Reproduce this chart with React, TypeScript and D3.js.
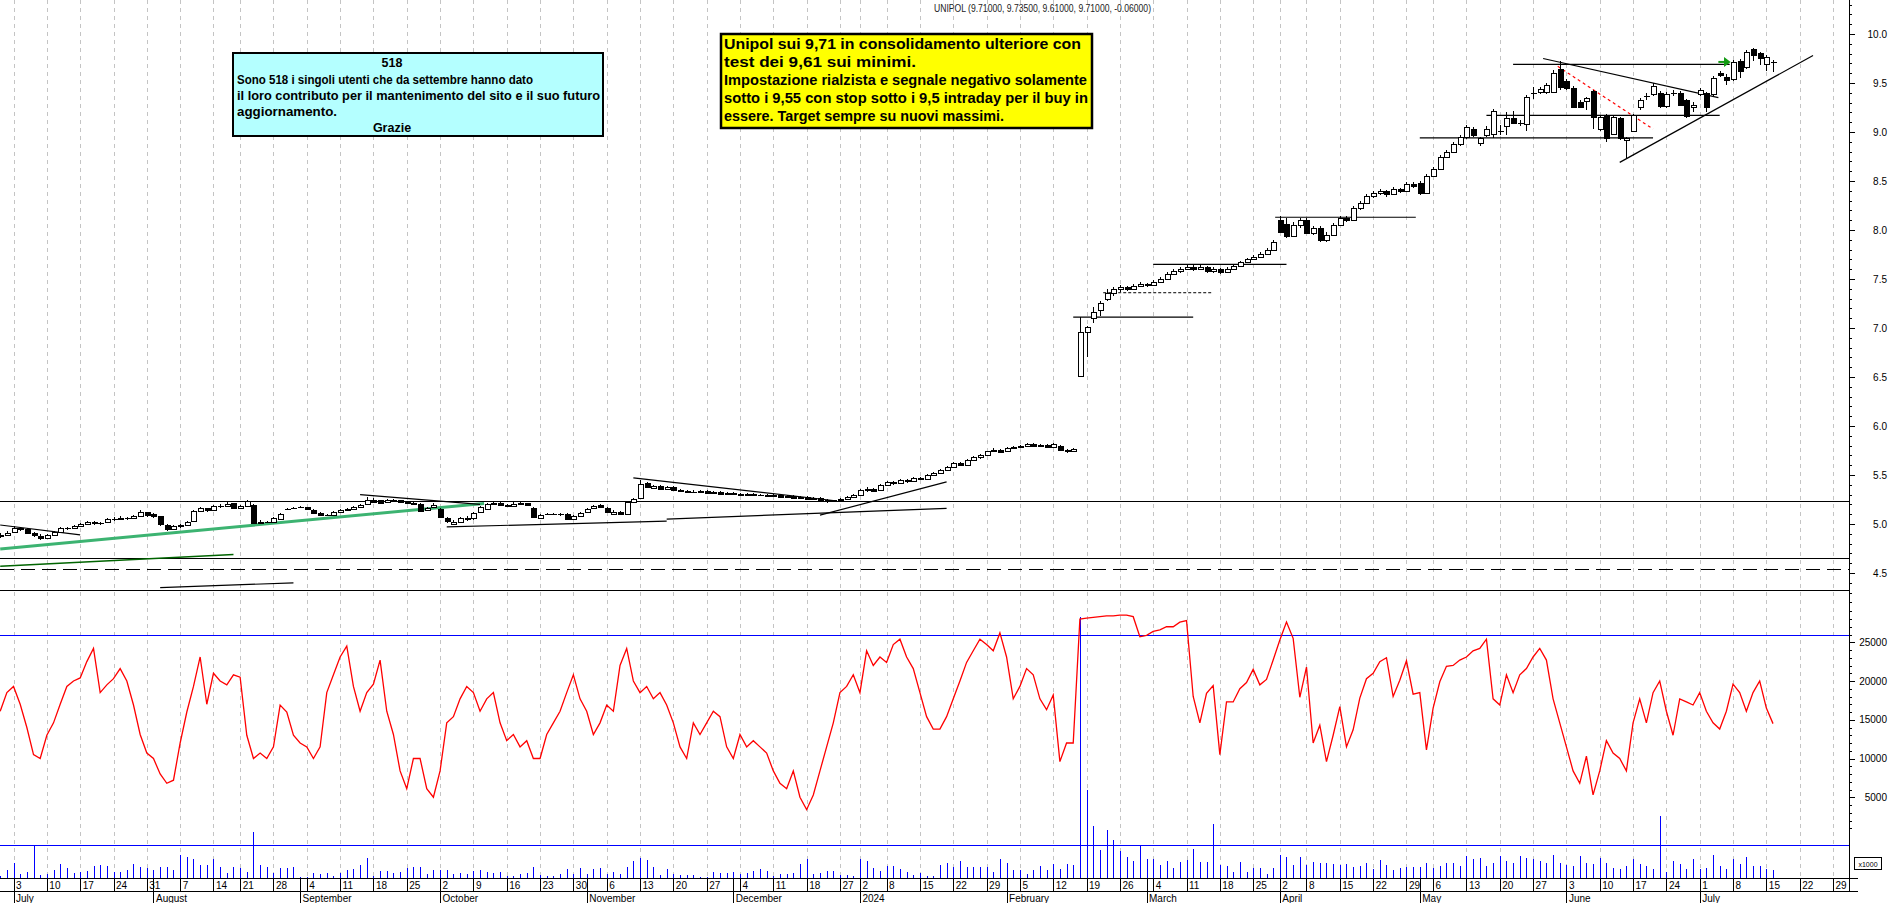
import * as d3 from "d3";

// ---- calendar -------------------------------------------------------------
const FIRST_DAY = new Date(2023, 5, 29);
const LAST_AXIS_DAY = new Date(2024, 6, 31);
const HOLIDAYS = ["2023-08-15", "2023-12-25", "2023-12-26", "2024-01-01", "2024-03-29", "2024-04-01", "2024-05-01"];
const MONTH_LABELS = ["July", "August", "September", "October", "November", "December", "2024", "February", "March", "April", "May", "June", "July"];
const FIRST_INDEX = -2; // index of FIRST_DAY relative to Jul 3 2023

// ---- price candles [open, high, low, close], one per trading day from 29 Jun 2023 ----
const CANDLES: number[][] = [
  [4.88, 4.91, 4.86, 4.89], [4.89, 4.93, 4.88, 4.91],
  // July
  [4.92, 4.98, 4.91, 4.96], [4.96, 4.97, 4.93, 4.95], [4.95, 4.96, 4.9, 4.91], [4.91, 4.92, 4.87, 4.89], [4.88, 4.9, 4.84, 4.86],
  [4.86, 4.9, 4.85, 4.89], [4.89, 4.93, 4.88, 4.92], [4.92, 4.97, 4.91, 4.96], [4.96, 4.97, 4.94, 4.96], [4.96, 4.99, 4.95, 4.98],
  [4.98, 5.01, 4.97, 5.0], [5.0, 5.03, 4.99, 5.02], [5.02, 5.03, 4.99, 5.01], [5.01, 5.02, 4.99, 5.01], [5.02, 5.06, 5.01, 5.05],
  [5.05, 5.07, 5.03, 5.05], [5.05, 5.08, 5.04, 5.06], [5.06, 5.07, 5.04, 5.06], [5.06, 5.09, 5.05, 5.08], [5.08, 5.14, 5.08, 5.12],
  [5.12, 5.12, 5.07, 5.09],
  // August
  [5.1, 5.11, 5.06, 5.08], [5.08, 5.08, 4.98, 5.0], [4.99, 5.0, 4.93, 4.95], [4.95, 4.99, 4.94, 4.98], [4.98, 5.0, 4.96, 4.99],
  [4.99, 5.03, 4.98, 5.02], [5.03, 5.14, 5.02, 5.13], [5.13, 5.17, 5.12, 5.16], [5.16, 5.16, 5.12, 5.14], [5.14, 5.19, 5.13, 5.18],
  [5.18, 5.2, 5.16, 5.18], [5.18, 5.22, 5.17, 5.2], [5.21, 5.21, 5.15, 5.16], [5.16, 5.19, 5.15, 5.18], [5.18, 5.25, 5.17, 5.23],
  [5.19, 5.2, 5.0, 5.01], [5.01, 5.04, 5.0, 5.02], [5.02, 5.03, 5.01, 5.02], [5.02, 5.07, 5.01, 5.06], [5.05, 5.11, 5.04, 5.1],
  [5.15, 5.16, 5.14, 5.15], [5.16, 5.17, 5.15, 5.16],
  // September
  [5.17, 5.18, 5.16, 5.17], [5.17, 5.17, 5.14, 5.15], [5.14, 5.15, 5.1, 5.11], [5.11, 5.12, 5.08, 5.09], [5.09, 5.1, 5.08, 5.09],
  [5.09, 5.13, 5.08, 5.12], [5.12, 5.15, 5.11, 5.14], [5.14, 5.16, 5.13, 5.15], [5.15, 5.18, 5.14, 5.17], [5.17, 5.2, 5.16, 5.19],
  [5.2, 5.28, 5.19, 5.25], [5.25, 5.27, 5.21, 5.22], [5.24, 5.25, 5.2, 5.21], [5.22, 5.26, 5.21, 5.25], [5.25, 5.26, 5.23, 5.24],
  [5.24, 5.25, 5.21, 5.22], [5.22, 5.23, 5.2, 5.21], [5.21, 5.22, 5.19, 5.2], [5.2, 5.21, 5.12, 5.13], [5.14, 5.17, 5.13, 5.16],
  [5.17, 5.21, 5.16, 5.19],
  // October
  [5.15, 5.16, 5.06, 5.07], [5.06, 5.07, 5.01, 5.03], [5.0, 5.04, 4.99, 5.02], [5.02, 5.07, 5.01, 5.06], [5.05, 5.08, 5.03, 5.06],
  [5.06, 5.12, 5.04, 5.11], [5.12, 5.18, 5.11, 5.17], [5.15, 5.21, 5.14, 5.2], [5.2, 5.23, 5.19, 5.21], [5.21, 5.22, 5.18, 5.19],
  [5.19, 5.2, 5.17, 5.18], [5.18, 5.22, 5.17, 5.2], [5.2, 5.22, 5.19, 5.21], [5.21, 5.21, 5.18, 5.19], [5.16, 5.17, 5.06, 5.07],
  [5.06, 5.1, 5.05, 5.09], [5.1, 5.11, 5.09, 5.1], [5.1, 5.11, 5.09, 5.1], [5.1, 5.11, 5.08, 5.1], [5.1, 5.11, 5.04, 5.05],
  [5.05, 5.09, 5.04, 5.08], [5.08, 5.12, 5.07, 5.11],
  // November
  [5.12, 5.16, 5.11, 5.15], [5.16, 5.19, 5.15, 5.18], [5.19, 5.2, 5.16, 5.17], [5.16, 5.17, 5.11, 5.12], [5.1, 5.14, 5.09, 5.12],
  [5.12, 5.13, 5.09, 5.1], [5.1, 5.23, 5.09, 5.22], [5.22, 5.27, 5.21, 5.26], [5.27, 5.45, 5.26, 5.41], [5.42, 5.43, 5.37, 5.38],
  [5.37, 5.4, 5.36, 5.39], [5.39, 5.4, 5.35, 5.36], [5.36, 5.39, 5.35, 5.38], [5.38, 5.39, 5.34, 5.35], [5.35, 5.36, 5.33, 5.34],
  [5.34, 5.35, 5.32, 5.33], [5.33, 5.35, 5.32, 5.33], [5.33, 5.35, 5.32, 5.34], [5.34, 5.35, 5.31, 5.32], [5.32, 5.34, 5.31, 5.33],
  [5.33, 5.34, 5.3, 5.31], [5.31, 5.33, 5.3, 5.32],
  // December
  [5.32, 5.33, 5.3, 5.31], [5.31, 5.32, 5.29, 5.3], [5.3, 5.32, 5.29, 5.31], [5.31, 5.32, 5.29, 5.3], [5.3, 5.31, 5.29, 5.3],
  [5.3, 5.31, 5.28, 5.29], [5.29, 5.31, 5.28, 5.3], [5.3, 5.31, 5.27, 5.28], [5.28, 5.3, 5.27, 5.29], [5.29, 5.3, 5.26, 5.27],
  [5.27, 5.29, 5.26, 5.28], [5.28, 5.29, 5.25, 5.26], [5.26, 5.28, 5.25, 5.27], [5.27, 5.28, 5.24, 5.25], [5.25, 5.26, 5.21, 5.23],
  [5.23, 5.25, 5.22, 5.24], [5.24, 5.27, 5.23, 5.26], [5.26, 5.29, 5.25, 5.28], [5.28, 5.31, 5.27, 5.3],
  // January
  [5.3, 5.36, 5.29, 5.35], [5.35, 5.38, 5.33, 5.36], [5.36, 5.37, 5.33, 5.34], [5.35, 5.41, 5.34, 5.4], [5.4, 5.44, 5.39, 5.43],
  [5.43, 5.44, 5.4, 5.42], [5.42, 5.46, 5.41, 5.45], [5.45, 5.46, 5.42, 5.44], [5.44, 5.48, 5.43, 5.47], [5.47, 5.48, 5.45, 5.46],
  [5.46, 5.51, 5.45, 5.5], [5.5, 5.53, 5.49, 5.52], [5.52, 5.56, 5.51, 5.55], [5.55, 5.59, 5.54, 5.58], [5.58, 5.63, 5.57, 5.62],
  [5.62, 5.63, 5.59, 5.6], [5.6, 5.66, 5.59, 5.65], [5.65, 5.69, 5.64, 5.68], [5.68, 5.71, 5.66, 5.7], [5.7, 5.75, 5.69, 5.74],
  [5.74, 5.78, 5.73, 5.76], [5.76, 5.77, 5.72, 5.73],
  // February
  [5.74, 5.79, 5.73, 5.78], [5.78, 5.8, 5.77, 5.79], [5.79, 5.81, 5.78, 5.8], [5.8, 5.83, 5.79, 5.82], [5.82, 5.83, 5.79, 5.8],
  [5.8, 5.82, 5.79, 5.81], [5.81, 5.82, 5.78, 5.79], [5.79, 5.83, 5.78, 5.82], [5.8, 5.81, 5.75, 5.76], [5.76, 5.77, 5.72, 5.74],
  [5.75, 5.78, 5.73, 5.77], [6.51, 7.11, 6.5, 6.96], [6.96, 7.02, 6.7, 7.01], [7.1, 7.21, 7.05, 7.16], [7.18, 7.28, 7.12, 7.26],
  [7.3, 7.4, 7.28, 7.36], [7.36, 7.42, 7.33, 7.4], [7.4, 7.44, 7.37, 7.42], [7.42, 7.43, 7.38, 7.4], [7.4, 7.45, 7.39, 7.43],
  [7.43, 7.47, 7.42, 7.45],
  // March
  [7.45, 7.46, 7.42, 7.44], [7.44, 7.49, 7.43, 7.47], [7.47, 7.52, 7.46, 7.5], [7.5, 7.57, 7.49, 7.55], [7.55, 7.6, 7.54, 7.58],
  [7.58, 7.62, 7.56, 7.6], [7.6, 7.65, 7.59, 7.62], [7.62, 7.64, 7.58, 7.6], [7.6, 7.64, 7.59, 7.62], [7.62, 7.63, 7.56, 7.58],
  [7.58, 7.62, 7.56, 7.6], [7.6, 7.61, 7.55, 7.57], [7.57, 7.62, 7.56, 7.6], [7.6, 7.65, 7.59, 7.63], [7.63, 7.68, 7.62, 7.67],
  [7.67, 7.71, 7.66, 7.7], [7.7, 7.74, 7.69, 7.72], [7.72, 7.78, 7.71, 7.76], [7.76, 7.82, 7.75, 7.8], [7.8, 7.9, 7.79, 7.88],
  // April
  [8.1, 8.14, 7.97, 7.98], [8.06, 8.12, 7.92, 7.94], [7.94, 8.08, 7.93, 8.05], [8.05, 8.12, 8.02, 8.1], [8.1, 8.12, 7.96, 7.97],
  [7.97, 8.04, 7.95, 8.02], [8.02, 8.04, 7.88, 7.9], [7.9, 7.98, 7.88, 7.95], [7.95, 8.07, 7.94, 8.05], [8.05, 8.14, 8.04, 8.12],
  [8.12, 8.14, 8.08, 8.1], [8.1, 8.24, 8.09, 8.22], [8.22, 8.3, 8.2, 8.28], [8.28, 8.37, 8.27, 8.35], [8.35, 8.4, 8.33, 8.38],
  [8.38, 8.42, 8.36, 8.4], [8.4, 8.41, 8.34, 8.37], [8.37, 8.44, 8.36, 8.42], [8.42, 8.43, 8.38, 8.4], [8.4, 8.49, 8.39, 8.47],
  [8.47, 8.49, 8.43, 8.45],
  // May
  [8.48, 8.5, 8.36, 8.38], [8.38, 8.57, 8.37, 8.55], [8.55, 8.64, 8.54, 8.62], [8.62, 8.77, 8.61, 8.75], [8.75, 8.82, 8.73, 8.8],
  [8.8, 8.9, 8.79, 8.88], [8.88, 8.97, 8.86, 8.95], [8.95, 9.07, 8.93, 9.05], [9.03, 9.05, 8.95, 8.97], [8.89, 8.95, 8.86, 8.94],
  [8.97, 9.06, 8.95, 9.03], [8.98, 9.23, 8.94, 9.21], [9.01, 9.07, 8.97, 9.01], [9.06, 9.2, 8.97, 9.14], [9.14, 9.21, 9.08, 9.09],
  [9.09, 9.12, 9.06, 9.09], [9.08, 9.38, 9.01, 9.36], [9.4, 9.46, 9.34, 9.4], [9.41, 9.46, 9.39, 9.44], [9.41, 9.5, 9.39, 9.48],
  [9.41, 9.63, 9.4, 9.6], [9.64, 9.72, 9.43, 9.46],
  // June
  [9.52, 9.54, 9.43, 9.45], [9.45, 9.47, 9.24, 9.26], [9.31, 9.33, 9.25, 9.26], [9.32, 9.36, 9.22, 9.35], [9.42, 9.43, 9.03, 9.15],
  [9.03, 9.16, 9.01, 9.15], [9.17, 9.18, 8.9, 8.94], [8.98, 9.17, 8.97, 9.15], [9.14, 9.15, 8.92, 8.94], [8.92, 8.95, 8.73, 8.94],
  [9.01, 9.18, 9.0, 9.17], [9.25, 9.35, 9.22, 9.33], [9.37, 9.4, 9.33, 9.37], [9.39, 9.5, 9.37, 9.47], [9.4, 9.42, 9.24, 9.27],
  [9.27, 9.41, 9.25, 9.39], [9.4, 9.43, 9.37, 9.4], [9.4, 9.42, 9.27, 9.28], [9.33, 9.34, 9.14, 9.16], [9.25, 9.31, 9.2, 9.28],
  // July
  [9.39, 9.45, 9.37, 9.43], [9.4, 9.41, 9.2, 9.26], [9.39, 9.57, 9.37, 9.55], [9.6, 9.62, 9.56, 9.58], [9.56, 9.59, 9.48, 9.53],
  [9.54, 9.73, 9.52, 9.71], [9.72, 9.75, 9.55, 9.62], [9.66, 9.84, 9.64, 9.82], [9.85, 9.86, 9.72, 9.79], [9.81, 9.82, 9.68, 9.75],
  [9.69, 9.79, 9.62, 9.77], [9.71, 9.735, 9.61, 9.71],
];

// ---- lower panel: red oscillator line (thousands) and blue volume bars ----
const OSCILLATOR = [
  16.1, 18.5,
  19.3, 17, 14, 10.5, 10.0, 13, 14.6, 17, 19.3, 20,
  20.4, 22.5, 24.2, 18.5, 19.5, 20.3, 21.6, 20, 16.9, 13.1,
  10.7, 10, 8, 6.8, 7.2, 12, 16, 19.3, 23.1, 17,
  21, 20, 19.5, 20.8, 20.5, 13, 10, 10.7, 10, 11.5,
  16.9, 16, 13, 12, 11.5, 10, 11.5, 18.5, 20.8, 23.1,
  24.5, 19.3, 16.1, 18.5, 19.6, 22.7, 16.1, 13.1, 8.4, 6.1,
  10, 10, 6.1, 5.0, 8.4, 14.6, 15.4, 17.7, 19.3, 18.5,
  16.1, 17.7, 18.5, 14.6, 12.3, 13.1, 11.5, 12.3, 10.0, 10,
  13.1, 14.6, 16.1, 18.5, 20.8, 17.7, 16.1, 13.1, 14.6, 16.9,
  16.1, 22.0, 24.2, 20, 18.5, 19.3, 17.7, 18.5, 16.9, 14.6,
  11.5, 10, 14.6, 13.1, 14.6, 16.1, 15.4, 11.5, 10, 13.1,
  11.5, 12.3, 11.5, 10.7, 8.4, 6.8, 6.1, 8.4, 5.0, 3.4,
  5.3, 8.4, 11.5, 14.6, 18.5, 19.3, 20.8, 18.5, 23.9, 22.0,
  23.1, 22.4, 24.7, 25.4, 23.1, 21.6, 18.5, 15.4, 13.8, 13.8,
  15.4, 17.7, 20.0, 22.4, 23.9, 25.4, 24.7, 23.9, 26.2, 23.1,
  17.7, 19.3, 21.6, 20.8, 17.7, 16.3, 18.2, 9.6, 12.0, 12.0,
  28.0, 28.1, 28.2, 28.3, 28.4, 28.4, 28.5, 28.5, 28.3, 25.7,
  25.9, 26.4, 26.6, 27.0, 27.0, 27.6, 27.8, 18, 14.6, 18.4,
  19.4, 10.5, 17.3, 17.3, 19.0, 19.8, 21.5, 19.5, 20.2, 22.7,
  25.3, 27.6, 25.5, 17.9, 21.8, 12, 14.3, 9.6, 13, 16.7,
  11.5, 13.7, 17.8, 20.3, 21, 22.5, 23, 18, 20.1, 22.6,
  18.3, 18.5, 11.1, 16.5, 19.9, 21.9, 22.0, 22.7, 23.1, 23.9,
  24.2, 25.4, 17.7, 16.9, 20.8, 18.5, 20.8, 21.6, 23.1, 24.2,
  22.7, 17.7, 14.6, 11.5, 8.4, 6.8, 10.3, 5.3, 8.4, 12.3,
  10.7, 10.0, 8.4, 14.6, 17.7, 14.6, 18.5, 20.0, 16.1, 13.0,
  17.7, 17.3, 16.9, 18.5, 16.1, 14.6, 13.8, 16.1, 19.6, 18.5,
  16.1, 18.5, 20.0, 16.5, 14.5,
];

const VOLUME = [
  215, 1030,
  2000, 516, 817, 4300, 430, 516, 1075, 1806, 1290, 645,
  817, 946, 1591, 1634, 1591, 817, 817, 1030, 1806, 1462,
  1290, 1030, 1376, 1376, 1075, 3000, 2700, 2500, 1720, 1634,
  2400, 1462, 602, 1462, 1290, 731, 6000, 1720, 1376, 602,
  1290, 1290, 1376, 100, 100, 602, 516, 602, 301, 602,
  1030, 1161, 1720, 2600, 301, 860, 946, 602, 731, 1290,
  1376, 1376, 516, 1030, 1030, 1030, 516, 602, 516, 946,
  1030, 817, 602, 817, 301, 301, 516, 602, 1462, 430,
  301, 301, 516, 1161, 516, 1290, 516, 1161, 1290, 516,
  817, 516, 1376, 2200, 2600, 2300, 1462, 430, 1161, 516,
  387, 387, 387, 86, 172, 731, 645, 645, 731, 516,
  602, 946, 1161, 946, 301, 516, 516, 602, 1806, 2500,
  516, 645, 946, 946, 430, 430, 301, 2400, 2200, 1290,
  946, 1591, 1591, 1161, 731, 430, 602, 301, 301, 1720,
  2000, 1376, 2150, 1376, 1376, 1376, 1376, 817, 2400, 2000,
  1030, 1030, 516, 1030, 1591, 1030, 1850, 1200, 1850, 1720,
  33700, 11400, 6750, 3570, 6235, 4860, 3440, 2710, 2150, 4260,
  2500, 2500, 1720, 2150, 1250, 2020, 2365, 3780, 2020, 2020,
  7000, 1720, 1500, 730, 2020, 730, 1290, 1290, 560, 1290,
  3010, 2670, 1720, 2670, 1720, 2060, 1980, 1935, 1850, 1630,
  1850, 1380, 1590, 1980, 1200, 2365, 1720, 990, 1290, 1380,
  1380, 1380, 1980, 1290, 1590, 1980, 2000, 1500, 2800, 2400,
  2600, 1500, 2000, 2800, 2200, 1900, 2800, 2600, 2400, 2200,
  1900, 3000, 2000, 1700, 1500, 2800, 2000, 1800, 2600, 2000,
  1300, 1100, 1600, 2400, 1800, 1600, 1200, 8000, 800, 2200,
  1800, 1200, 2400, 1100, 1300, 3000, 1500, 1100, 2400, 1800,
  2700, 1600, 1500, 1100, 1000,
];

const OSC_LEVEL = 26000;
const VOLUME_AVERAGE = 4260;

// ---- axis ticks ----
const PRICE_MAJOR = [4.5, 5, 5.5, 6, 6.5, 7, 7.5, 8, 8.5, 9, 9.5, 10];
const OSC_MAJOR = [5000, 10000, 15000, 20000, 25000];

// ---- drawn annotations (day index, price) ----
const LEVELS = [
  { price: 5.23, dash: "" },
  { price: 4.65, dash: "" },
  { price: 4.54, dash: "14,7" },
  { price: 4.33, dash: "" },
];
const TRENDLINES = [
  { a: [-2, 4.745], b: [70.6, 5.21], color: "#3cb371", w: 3, dash: "" },
  { a: [-2, 4.57], b: [33, 4.69], color: "#006400", w: 1.5, dash: "" },
  { a: [-2, 4.99], b: [10, 4.89], color: "#000", w: 1.2, dash: "" },
  { a: [22, 4.35], b: [42, 4.4], color: "#000", w: 1.2, dash: "" },
  { a: [52, 5.3], b: [70, 5.2], color: "#000", w: 1.2, dash: "" },
  { a: [65, 4.97], b: [98, 5.03], color: "#000", w: 1.2, dash: "" },
  { a: [98, 5.05], b: [140, 5.16], color: "#000", w: 1.2, dash: "" },
  { a: [93, 5.47], b: [123, 5.24], color: "#000", w: 1.2, dash: "" },
  { a: [121, 5.09], b: [140, 5.43], color: "#000", w: 1.2, dash: "" },
  { a: [159, 7.11], b: [177, 7.11], color: "#000", w: 1.2, dash: "" },
  { a: [163.5, 7.36], b: [179.7, 7.36], color: "#000", w: 1, dash: "3,2" },
  { a: [171, 7.65], b: [191, 7.65], color: "#000", w: 1.2, dash: "" },
  { a: [189.3, 8.13], b: [210.4, 8.13], color: "#000", w: 1.2, dash: "" },
  { a: [211, 8.94], b: [246, 8.94], color: "#000", w: 1.2, dash: "" },
  { a: [221, 9.17], b: [256, 9.17], color: "#000", w: 1.2, dash: "" },
  { a: [225, 9.69], b: [257.5, 9.69], color: "#000", w: 1.2, dash: "" },
  { a: [229.5, 9.75], b: [255.8, 9.35], color: "#000", w: 1.2, dash: "" },
  { a: [231.7, 9.67], b: [246, 9.03], color: "#ff0000", w: 1.2, dash: "3,3" },
  { a: [241, 8.69], b: [270, 9.78], color: "#000", w: 1.2, dash: "" },
];

const TITLE = "UNIPOL (9.71000, 9.73500, 9.61000, 9.71000, -0.06000)";
const NOTE_CYAN = [
  "Sono 518 i singoli utenti che da settembre hanno dato",
  "il loro contributo per il mantenimento del sito e il suo futuro",
  "aggiornamento.",
];
const NOTE_YELLOW = [
  "Unipol sui 9,71 in consolidamento ulteriore con",
  "test dei 9,61 sui minimi.",
  "Impostazione rialzista e segnale negativo solamente",
  "sotto i 9,55 con stop sotto i 9,5 intraday per il buy in",
  "essere. Target sempre su nuovi massimi.",
];

// ---- layout ----
const W = 1890;
const H = 903;
const AXIS_X = 1849;
const AXIS_Y = 878;
const ROW_Y = 891;
const FONT = "'Liberation Sans', Arial, Helvetica, sans-serif";

function tradingDays() {
  const fmt = d3.timeFormat("%Y-%m-%d");
  return d3.timeDay
    .range(FIRST_DAY, d3.timeDay.offset(LAST_AXIS_DAY, 1))
    .filter(d => d.getDay() !== 0 && d.getDay() !== 6 && !HOLIDAYS.includes(fmt(d)));
}

export default function App() {
  const days = tradingDays();

  const x = d3.scaleLinear().domain([-2.03, 275.4]).range([0, AXIS_X]);
  const y = d3.scaleLinear().domain([4, 10.35]).range([622, -0.3]);
  const yOsc = d3.scaleLinear().domain([0, 30000]).range([836, 603.5]);
  const yVol = d3.scaleLinear().domain([0, 35000]).range([AXIS_Y, AXIS_Y - 271.25]);

  const px = (v: number) => Math.round(v) + 0.5;

  // week ticks (first trading day of each week) and month starts
  const weekTicks: { i: number; d: Date }[] = [];
  const monthTicks: { i: number; d: Date }[] = [];
  days.forEach((d, k) => {
    if (k === 0) return;
    const prev = days[k - 1];
    const i = k + FIRST_INDEX;
    if (d3.timeMonday.floor(d).getTime() !== d3.timeMonday.floor(prev).getTime()) weekTicks.push({ i, d });
    if (d.getMonth() !== prev.getMonth()) monthTicks.push({ i, d });
  });

  const oscLine = d3.line<number>()
    .x((_, k) => x(k + FIRST_INDEX))
    .y(v => yOsc(v * 1000));

  const priceMinor = d3.range(42, 104).map(v => v / 10);
  const oscMinor = d3.range(1000, 30000, 1000);

  return (
    <svg width={W} height={H} style={{ position: "absolute", left: 0, top: 0, background: "#fff" }}
      fontFamily={FONT}>
      <rect width={W} height={H} fill="#fff" />
      <defs>
        <clipPath id="plot"><rect x={0} y={0} width={AXIS_X} height={AXIS_Y} /></clipPath>
      </defs>

      {/* weekly grid */}
      <g stroke="#c4c4c4" strokeDasharray="4,4" shapeRendering="crispEdges">
        {weekTicks.map(t => (
          <line key={t.i} x1={px(x(t.i))} x2={px(x(t.i))} y1={0} y2={AXIS_Y} />
        ))}
      </g>

      <g clipPath="url(#plot)">
        {/* horizontal levels */}
        {LEVELS.map((l, k) => (
          <line key={k} x1={0} x2={AXIS_X} y1={px(y(l.price))} y2={px(y(l.price))}
            stroke="#000" strokeWidth={1.3} strokeDasharray={l.dash} shapeRendering="crispEdges" />
        ))}
        {TRENDLINES.map((t, k) => (
          <line key={k} x1={x(t.a[0])} y1={y(t.a[1])} x2={x(t.b[0])} y2={y(t.b[1])}
            stroke={t.color} strokeWidth={t.w} strokeDasharray={t.dash} />
        ))}

        {/* candles */}
        {CANDLES.map((c, k) => {
          const [o, h, l, cl] = c;
          const cx = px(x(k + FIRST_INDEX));
          const top = Math.round(y(Math.max(o, cl))) + 0.5;
          const bot = Math.round(y(Math.min(o, cl))) + 0.5;
          return (
            <g key={k} shapeRendering="crispEdges">
              <line x1={cx} x2={cx} y1={y(h)} y2={y(l)} stroke="#000" />
              {bot - top < 1 ? (
                <line x1={cx - 3} x2={cx + 3} y1={top} y2={top} stroke="#000" />
              ) : (
                <rect x={cx - 2.5} y={top} width={5} height={bot - top}
                  fill={cl >= o ? "#fff" : "#000"} stroke="#000" />
              )}
            </g>
          );
        })}

        {/* breakout arrow */}
        <g stroke="#129a12" strokeWidth={2} fill="#129a12">
          <line x1={x(255.8)} x2={x(257)} y1={y(9.715)} y2={y(9.715)} />
          <path d={`M${x(257.4)},${y(9.715)} l-4,-3 l0,6 z`} />
        </g>

        {/* lower panel */}
        <line x1={0} x2={AXIS_X} y1={px(yOsc(OSC_LEVEL))} y2={px(yOsc(OSC_LEVEL))}
          stroke="#0000ff" strokeWidth={1.3} shapeRendering="crispEdges" />
        <line x1={0} x2={AXIS_X} y1={px(yVol(VOLUME_AVERAGE))} y2={px(yVol(VOLUME_AVERAGE))}
          stroke="#0000ff" strokeWidth={1.3} shapeRendering="crispEdges" />
        <g stroke="#0000ff" strokeWidth={1.6} shapeRendering="crispEdges">
          {VOLUME.map((v, k) => (
            <line key={k} x1={px(x(k + FIRST_INDEX))} x2={px(x(k + FIRST_INDEX))}
              y1={yVol(0)} y2={yVol(v)} />
          ))}
        </g>
        <path d={oscLine(OSCILLATOR) ?? ""} fill="none" stroke="#ff0000" strokeWidth={1.3} />
      </g>

      {/* right axis */}
      <g stroke="#000" shapeRendering="crispEdges">
        <line x1={px(AXIS_X)} x2={px(AXIS_X)} y1={0} y2={ROW_Y} />
        {priceMinor.map(v => (
          <line key={"pm" + v} x1={AXIS_X} x2={AXIS_X + 3} y1={px(y(v))} y2={px(y(v))} />
        ))}
        {PRICE_MAJOR.map(v => (
          <line key={"pM" + v} x1={AXIS_X} x2={AXIS_X + 6} y1={px(y(v))} y2={px(y(v))} />
        ))}
        {oscMinor.map(v => (
          <line key={"om" + v} x1={AXIS_X} x2={AXIS_X + 3} y1={px(yOsc(v))} y2={px(yOsc(v))} />
        ))}
        {OSC_MAJOR.map(v => (
          <line key={"oM" + v} x1={AXIS_X} x2={AXIS_X + 6} y1={px(yOsc(v))} y2={px(yOsc(v))} />
        ))}
      </g>
      <g fontSize={10} textAnchor="end" fill="#000">
        {PRICE_MAJOR.map(v => (
          <text key={v} x={1887} y={y(v) + 3.5}>{v.toFixed(1)}</text>
        ))}
        {OSC_MAJOR.map(v => (
          <text key={v} x={1887} y={yOsc(v) + 3.5}>{v}</text>
        ))}
      </g>
      <rect x={1854.5} y={857.5} width={27} height={12} fill="#fff" stroke="#000" shapeRendering="crispEdges" />
      <text x={1868} y={866.5} fontSize={7} textAnchor="middle">x1000</text>

      {/* date axis */}
      <g stroke="#000" shapeRendering="crispEdges">
        <line x1={0} x2={1858} y1={px(AXIS_Y)} y2={px(AXIS_Y)} />
        <line x1={0} x2={1858} y1={px(ROW_Y)} y2={px(ROW_Y)} />
        {weekTicks.map(t => (
          <line key={t.i} x1={px(x(t.i))} x2={px(x(t.i))} y1={AXIS_Y} y2={ROW_Y} />
        ))}
        {monthTicks.map(t => (
          <line key={t.i} x1={px(x(t.i))} x2={px(x(t.i))} y1={AXIS_Y} y2={H} />
        ))}
      </g>
      <g fontSize={10} fill="#000">
        {weekTicks.map(t => (
          <text key={t.i} x={x(t.i) + 2.5} y={889}>{t.d.getDate()}</text>
        ))}
        {monthTicks.map((t, k) => (
          <text key={t.i} x={x(t.i) + 2.5} y={901.5}>{MONTH_LABELS[k]}</text>
        ))}
      </g>

      {/* title */}
      <text x={934} y={12} fontSize={10} fill="#222" textLength={217} lengthAdjust="spacingAndGlyphs">{TITLE}</text>

      {/* cyan note */}
      <rect x={233} y={53} width={370} height={83} fill="#b4ffff" stroke="#000" strokeWidth={2} />
      <g fontSize={12.5} fontWeight="bold" fill="#000">
        <text x={392} y={67} textAnchor="middle">518</text>
        <text x={237} y={84} textLength={296} lengthAdjust="spacingAndGlyphs">{NOTE_CYAN[0]}</text>
        <text x={237} y={100} textLength={363} lengthAdjust="spacingAndGlyphs">{NOTE_CYAN[1]}</text>
        <text x={237} y={116} textLength={100} lengthAdjust="spacingAndGlyphs">{NOTE_CYAN[2]}</text>
        <text x={392} y={132} textAnchor="middle">Grazie</text>
      </g>

      {/* yellow note */}
      <rect x={721} y={34} width={371} height={94} fill="#ffff00" stroke="#000" strokeWidth={2.5} />
      <g fontSize={15} fontWeight="bold" fill="#000">
        {NOTE_YELLOW.map((s, k) => (
          <text key={k} x={724} y={49 + k * 18.1}
            textLength={[357, 192, 363, 364, 280][k]} lengthAdjust="spacingAndGlyphs">{s}</text>
        ))}
      </g>
    </svg>
  );
}
